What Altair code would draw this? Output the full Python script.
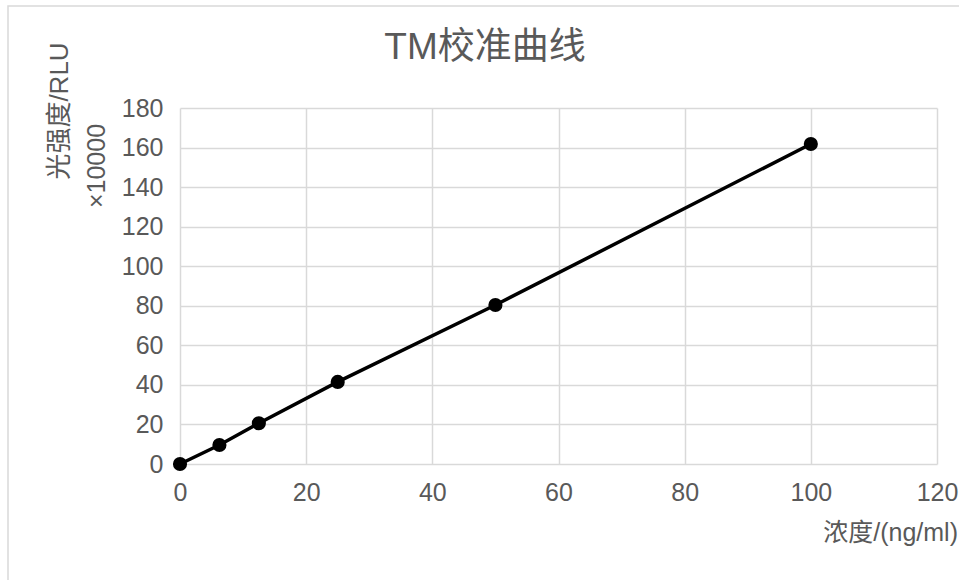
import altair as alt
import pandas as pd

conc = [0, 6.25, 12.5, 25, 50, 100]
rlu = [0, 9.6, 20.6, 41.5, 80.4, 161.8]
x_ticks = [0, 20, 40, 60, 80, 100, 120]
y_ticks = [0, 20, 40, 60, 80, 100, 120, 140, 160, 180]
title_text = "TM校准曲线"
y_title = "光强度/RLU"
y_unit = "×10000"
x_title = "浓度/(ng/ml)"

FONT = "Liberation Sans, Arial, Noto Sans CJK SC"
GRAY = "#595959"

df = pd.DataFrame({"conc": conc, "rlu": rlu})

x_enc = alt.X("conc:Q", scale=alt.Scale(domain=[0, 120], nice=False),
              axis=alt.Axis(values=x_ticks, title=None, grid=True, domain=False, ticks=False,
                            labelFontSize=25, labelColor=GRAY, labelFont=FONT, labelPadding=16,
                            labelFlush=False, labelOverlap=False,
                            gridColor="#d9d9d9", gridWidth=1.5))
y_enc = alt.Y("rlu:Q", scale=alt.Scale(domain=[0, 180], nice=False),
              axis=alt.Axis(values=y_ticks, title=None, grid=True, domain=False, ticks=False,
                            labelFontSize=25, labelColor=GRAY, labelFont=FONT, labelPadding=17,
                            labelOverlap=False, labelFlush=False,
                            gridColor="#d9d9d9", gridWidth=1.5))

line = alt.Chart(df).mark_line(color="black", strokeWidth=3.5).encode(x=x_enc, y=y_enc)
pts = alt.Chart(df).mark_circle(color="black", size=200, opacity=1).encode(x=x_enc, y=y_enc)

frame = alt.Chart(pd.DataFrame({"a": [0]})).mark_rect(
    fill=None, stroke="#d9d9d9", strokeWidth=1.5
).encode(x=alt.value(-172), x2=alt.value(800), y=alt.value(-102), y2=alt.value(520))

def txt(s, x, y, size, angle=0, align="center"):
    kw = dict(fontSize=size, color=GRAY, font=FONT, align=align, baseline="middle")
    if angle:
        kw["angle"] = angle
    return alt.Chart(pd.DataFrame({"t": [s]})).mark_text(**kw).encode(
        text="t:N", x=alt.value(x), y=alt.value(y))

t_title = txt(title_text, 305, -60, 37)
t_y = txt(y_title, -120, 3, 26, angle=270)
t_unit = txt(y_unit, -83, 58, 25, angle=270)
t_x = txt(x_title, 778, 425, 25, align="right")

chart = alt.layer(frame, line, pts, t_title, t_y, t_unit, t_x).properties(
    width=757, height=356,
    autosize=alt.AutoSizeParams(type="none"),
    padding={"left": 180, "top": 108, "right": 22, "bottom": 116},
).configure_view(stroke=None)

chart.save("out.html", embed_options={"renderer": "svg", "actions": False})
